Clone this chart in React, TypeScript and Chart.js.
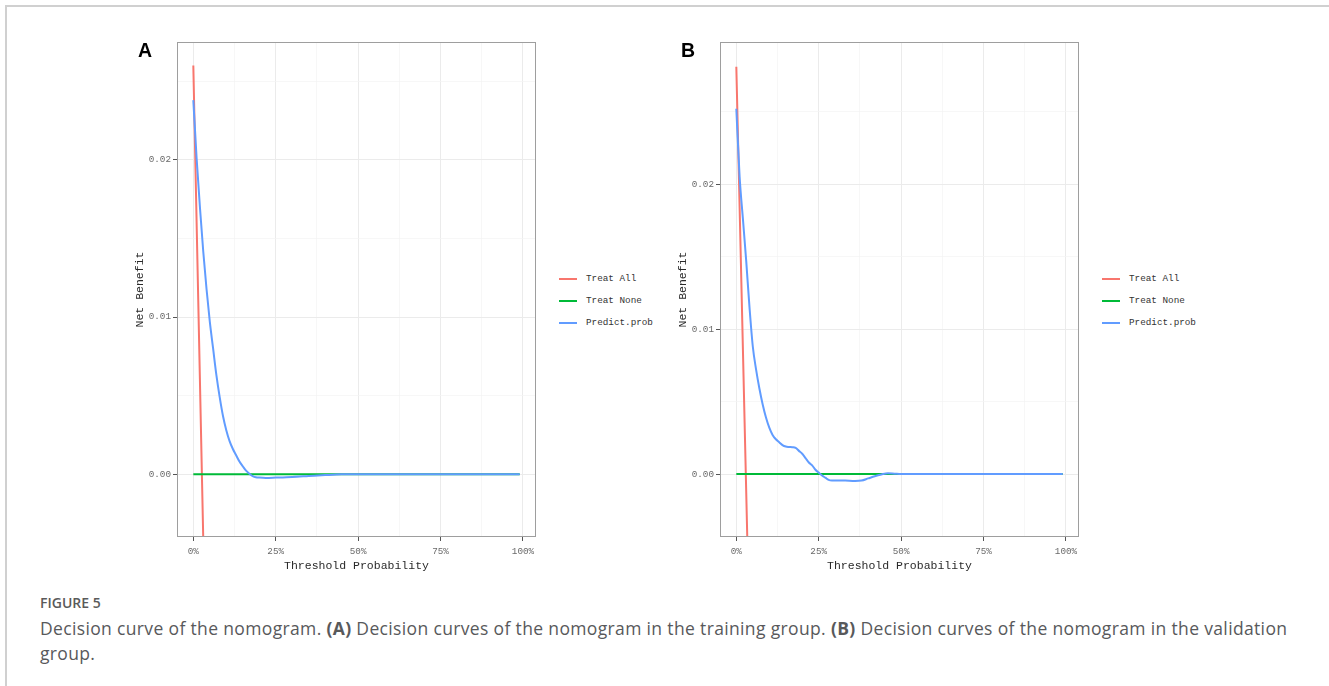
import React, { useEffect, useRef } from "react";
import { Chart, registerables } from "chart.js";

Chart.register(...registerables);

// ---------- data ----------
const xGridTicks = [0, 0.125, 0.25, 0.375, 0.5, 0.625, 0.75, 0.875, 1];
const xMajorTicks = [0, 0.25, 0.5, 0.75, 1];
const yGridTicks = [0, 0.005, 0.01, 0.015, 0.02, 0.025];
const yMajorTicks = [0, 0.01, 0.02];
const seriesNames = ["Treat All", "Treat None", "Predict.prob"];

// Panel A (training group)
const thresholdA = [0, 0.01, 0.02, 0.03, 0.04, 0.05, 0.06, 0.07, 0.08, 0.09, 0.1, 0.11, 0.12, 0.13, 0.14, 0.15, 0.16, 0.17, 0.18, 0.19, 0.2, 0.22, 0.25, 0.3, 0.35, 0.4, 0.45, 0.5, 0.6, 0.7, 0.8, 0.9, 0.99];
const predictA = [0.0238, 0.0201, 0.017, 0.0142, 0.0118, 0.0097, 0.008, 0.0063, 0.0049, 0.0037, 0.0028, 0.0021, 0.0016, 0.0012, 0.0008, 0.0005, 0.00022, 0.00003, -0.00012, -0.0002, -0.00022, -0.00024, -0.00022, -0.00018, -0.00012, -0.00006, -0.00001, 0, 0, 0, 0, 0, 0];
const treatAllXA = [0, 0.01, 0.02, 0.03, 0.04];
const treatAllA = [0.026, 0.016, 0.006, -0.004, -0.014];
const treatNoneX = [0, 0.99];
const treatNone = [0, 0];

// Panel B (validation group)
const thresholdB = [0, 0.01, 0.02, 0.03, 0.04, 0.05, 0.06, 0.07, 0.08, 0.09, 0.1, 0.11, 0.12, 0.13, 0.14, 0.15, 0.16, 0.17, 0.18, 0.19, 0.2, 0.21, 0.22, 0.23, 0.24, 0.25, 0.26, 0.27, 0.28, 0.29, 0.3, 0.33, 0.36, 0.38, 0.4, 0.42, 0.44, 0.46, 0.48, 0.5, 0.6, 0.7, 0.8, 0.9, 0.99];
const predictB = [0.0252, 0.0205, 0.0176, 0.0147, 0.0115, 0.0088, 0.0072, 0.0059, 0.0048, 0.0039, 0.0032, 0.0027, 0.0024, 0.0022, 0.002, 0.0019, 0.00187, 0.00185, 0.0018, 0.0016, 0.0014, 0.0011, 0.0008, 0.0006, 0.0003, 0.0001, -0.0001, -0.00025, -0.0004, -0.00044, -0.00044, -0.00045, -0.00048, -0.00045, -0.0003, -0.00015, -0.00003, 0.00006, 0.00003, 0, 0, 0, 0, 0, 0];
const treatAllXB = [0, 0.01, 0.02, 0.03, 0.04];
const treatAllB = [0.0281, 0.0184, 0.0086, -0.0012, -0.011];

const COLORS = ["#F8766D", "#00BA38", "#619CFF"];
const MONO = "'Liberation Mono', 'DejaVu Sans Mono', monospace";
const CAPTION_FONT = "'Open Sans', 'Noto Sans', sans-serif";

const framePlugin = {
  id: "frame",
  afterDraw(chart: any) {
    const { ctx, chartArea } = chart;
    ctx.save();
    ctx.strokeStyle = "#9e9e9e";
    ctx.lineWidth = 1;
    ctx.strokeRect(
      Math.round(chartArea.left) + 0.5,
      Math.round(chartArea.top) + 0.5,
      Math.round(chartArea.right - chartArea.left) - 1,
      Math.round(chartArea.bottom - chartArea.top) - 1
    );
    ctx.restore();
  },
};

const toPts = (xs: number[], ys: number[]) => xs.map((x, i) => ({ x, y: ys[i] }));

type PanelProps = {
  left: number;
  letter: string;
  thr: number[];
  pred: number[];
  allX: number[];
  all: number[];
  yMin: number;
  yMax: number;
};

function Panel({ left, letter, thr, pred, allX, all, yMin, yMax }: PanelProps) {
  const ref = useRef<HTMLCanvasElement | null>(null);
  useEffect(() => {
    if (!ref.current) return;
    const isMajorX = (v: number) => xMajorTicks.some((m) => Math.abs(m - v) < 1e-9);
    const isMajorY = (v: number) => yMajorTicks.some((m) => Math.abs(m - v) < 1e-9);
    const chart = new Chart(ref.current, {
      type: "line",
      data: {
        datasets: [
          { label: seriesNames[0], data: toPts(allX, all), borderColor: COLORS[0], order: 2 },
          { label: seriesNames[1], data: toPts(treatNoneX, treatNone), borderColor: COLORS[1], order: 1 },
          { label: seriesNames[2], data: toPts(thr, pred), borderColor: COLORS[2], order: 0, cubicInterpolationMode: "monotone" },
        ].map((d: any) => ({ ...d, borderWidth: 2, pointRadius: 0, fill: false, clip: 0 })),
      },
      options: {
        animation: false,
        responsive: false,
        events: [],
        layout: { padding: { top: 12, right: 14, left: 0, bottom: 0 } },
        plugins: { legend: { display: false }, tooltip: { enabled: false }, title: { display: false } },
        scales: {
          x: {
            type: "linear",
            min: -0.0495,
            max: 1.0395,
            afterBuildTicks: (s: any) => {
              s.ticks = xGridTicks.map((v) => ({ value: v }));
            },
            afterFit: (s: any) => {
              s.height = 53;
            },
            ticks: {
              autoSkip: false,
              maxRotation: 0,
              padding: 5,
              color: "#6a6a6a",
              font: { family: MONO, size: 9.3 },
              callback: (v: any) => (isMajorX(Number(v)) ? `${Math.round(Number(v) * 100)}%` : ""),
            },
            grid: {
              tickLength: 4,
              color: (c: any) => (isMajorX(c.tick.value) ? "#ebebeb" : "#f4f4f4"),
              lineWidth: (c: any) => (isMajorX(c.tick.value) ? 1 : 0.7),
              tickColor: (c: any) => (isMajorX(c.tick.value) ? "#555555" : "rgba(0,0,0,0)"),
            },
            border: { display: false },
            title: {
              display: true,
              text: "Threshold Probability",
              color: "#2a2a2a",
              font: { family: MONO, size: 11.5 },
              padding: { top: 0, bottom: 17 },
            },
          },
          y: {
            type: "linear",
            min: yMin,
            max: yMax,
            afterBuildTicks: (s: any) => {
              s.ticks = yGridTicks.filter((v) => v >= yMin && v <= yMax).map((v) => ({ value: v }));
            },
            afterFit: (s: any) => {
              s.width = 77;
            },
            ticks: {
              autoSkip: false,
              padding: 2,
              color: "#6a6a6a",
              font: { family: MONO, size: 9.3 },
              callback: (v: any) => (isMajorY(Number(v)) ? Number(v).toFixed(2) : ""),
            },
            grid: {
              tickLength: 4,
              color: (c: any) => (isMajorY(c.tick.value) ? "#ebebeb" : "#f4f4f4"),
              lineWidth: (c: any) => (isMajorY(c.tick.value) ? 1 : 0.7),
              tickColor: (c: any) => (isMajorY(c.tick.value) ? "#555555" : "rgba(0,0,0,0)"),
            },
            border: { display: false },
            title: {
              display: true,
              text: "Net Benefit",
              color: "#2a2a2a",
              font: { family: MONO, size: 11.5 },
              padding: { top: 33, bottom: 0 },
            },
          },
        },
      } as any,
      plugins: [framePlugin],
    });
    return () => chart.destroy();
  }, []);

  const legendLeft = left + 459;
  const rows = [279, 300.8, 322.5];
  return (
    <>
      <canvas
        ref={ref}
        width={450}
        height={560}
        style={{ position: "absolute", left, top: 30, width: 450, height: 560 }}
      />
      <div
        style={{
          position: "absolute",
          left: left + 38,
          top: 40.5,
          fontFamily: "'Liberation Sans', Arial, sans-serif",
          fontWeight: 700,
          fontSize: 19.5,
          lineHeight: "19.5px",
          color: "#000",
        }}
      >
        {letter}
      </div>
      {seriesNames.map((name, i) => (
        <div
          key={name}
          style={{
            position: "absolute",
            left: legendLeft,
            top: rows[i] - 6,
            height: 12,
            display: "flex",
            alignItems: "center",
            whiteSpace: "nowrap",
          }}
        >
          <div style={{ width: 18, height: 2, background: COLORS[i] }} />
          <div
            style={{
              marginLeft: 9,
              fontFamily: MONO,
              fontSize: 9.3,
              lineHeight: "12px",
              color: "#333",
            }}
          >
            {name}
          </div>
        </div>
      ))}
    </>
  );
}

export default function App() {
  return (
    <div
      style={{
        position: "fixed",
        left: 0,
        top: 0,
        width: 1329,
        height: 686,
        background: "#fff",
        overflow: "hidden",
      }}
    >
      <div
        style={{
          position: "absolute",
          left: 5,
          top: 5,
          width: 1330,
          height: 700,
          borderTop: "2px solid #d0d0d0",
          borderLeft: "2px solid #d0d0d0",
        }}
      />
      <Panel left={100} letter="A" thr={thresholdA} pred={predictA} allX={treatAllXA} all={treatAllA} yMin={-0.004} yMax={0.0275} />
      <Panel left={643} letter="B" thr={thresholdB} pred={predictB} allX={treatAllXB} all={treatAllB} yMin={-0.00434} yMax={0.0298} />
      <div
        style={{
          position: "absolute",
          left: 40,
          top: 596,
          fontFamily: CAPTION_FONT,
          fontSize: 14,
          lineHeight: "14px",
          fontWeight: 600,
          color: "#5a5a5a",
        }}
      >
        FIGURE 5
      </div>
      <div
        style={{
          position: "absolute",
          left: 40,
          top: 616,
          width: 1266,
          fontFamily: CAPTION_FONT,
          fontSize: 17.5,
          letterSpacing: "0.35px",
          lineHeight: "25px",
          color: "#58595b",
        }}
      >
        Decision curve of the nomogram. <b style={{ fontWeight: 700 }}>(A)</b> Decision curves of the nomogram in the training group.{" "}
        <b style={{ fontWeight: 700 }}>(B)</b> Decision curves of the nomogram in the validation group.
      </div>
    </div>
  );
}
